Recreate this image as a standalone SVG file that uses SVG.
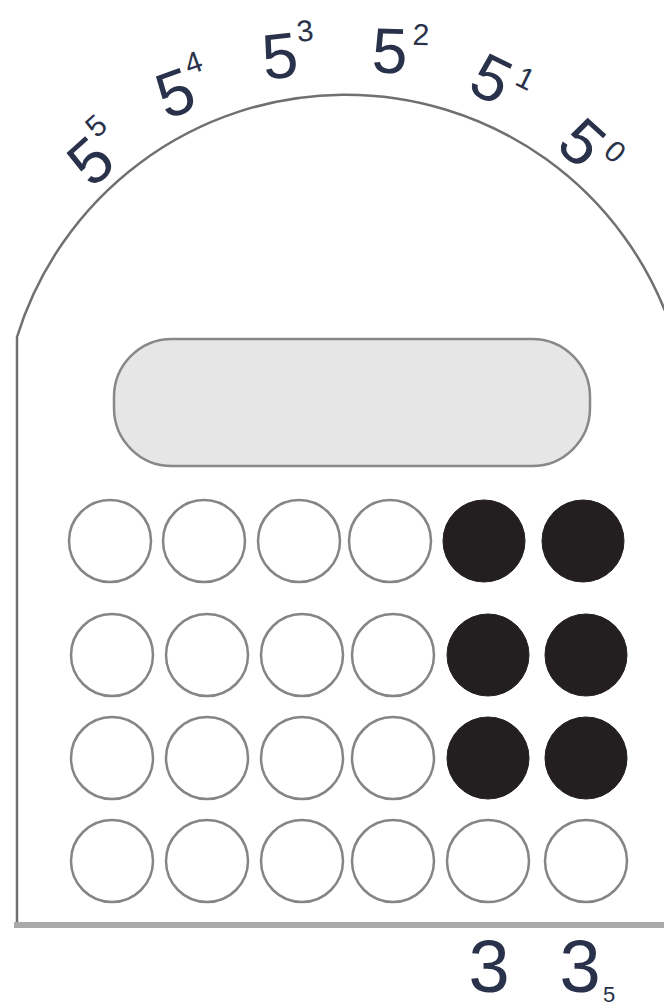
<svg xmlns="http://www.w3.org/2000/svg" width="664" height="1008" viewBox="0 0 664 1008">
<style>
.outline{fill:none;stroke:#707070;stroke-width:2.5}
.base{fill:none;stroke:#aaa;stroke-width:6}
.bead{fill:#fff;stroke:#858585;stroke-width:2.5}
.on{fill:#231f20;stroke:#231f20;stroke-width:1}
.lbl{font-family:"Liberation Sans",Arial,sans-serif;fill:#29324a}
.b{font-size:64px}
.e{font-size:30px}
</style>
<rect width="664" height="1008" fill="#fff"/>
<g id="frame">
<path class="outline" d="M17 925 L17 337 A344 344 0 0 1 672 330"/>
<line class="base" x1="14" y1="925" x2="664" y2="925"/>
</g>
<g id="display">
<rect x="114" y="339" width="476" height="127" rx="58" ry="58" fill="#e6e6e6" stroke="#888" stroke-width="2.5"/>
</g>
<g id="labels">
<g id="p5" transform="translate(90,160) rotate(-42)"><text class="lbl b" x="-18" y="23">5</text><text class="lbl e" x="19" y="-11">5</text></g>
<g id="p4" transform="translate(175,92) rotate(-20)"><text class="lbl b" x="-18" y="23">5</text><text class="lbl e" x="19" y="-11">4</text></g>
<g id="p3" transform="translate(280,55) rotate(-6)"><text class="lbl b" x="-18" y="23">5</text><text class="lbl e" x="19" y="-11">3</text></g>
<g id="p2" transform="translate(390,50) rotate(2)"><text class="lbl b" x="-18" y="23">5</text><text class="lbl e" x="22" y="-6">2</text></g>
<g id="p1" transform="translate(492,78) rotate(26)"><text class="lbl b" x="-18" y="23">5</text><text class="lbl e" x="22" y="-4">1</text></g>
<g id="p0" transform="translate(583,142) rotate(42)"><text class="lbl b" x="-18" y="23">5</text><text class="lbl e" x="22" y="-4">0</text></g>
</g>
<g id="beads">
<circle class="bead" cx="110" cy="541" r="41"/>
<circle class="bead" cx="204" cy="541" r="41"/>
<circle class="bead" cx="299" cy="541" r="41"/>
<circle class="bead" cx="390" cy="541" r="41"/>
<circle class="on" cx="484" cy="541" r="41"/>
<circle class="on" cx="583" cy="541" r="41"/>
<circle class="bead" cx="112" cy="655" r="41"/>
<circle class="bead" cx="207" cy="655" r="41"/>
<circle class="bead" cx="302" cy="655" r="41"/>
<circle class="bead" cx="393" cy="655" r="41"/>
<circle class="on" cx="488" cy="655" r="41"/>
<circle class="on" cx="586" cy="655" r="41"/>
<circle class="bead" cx="112" cy="758" r="41"/>
<circle class="bead" cx="207" cy="758" r="41"/>
<circle class="bead" cx="302" cy="758" r="41"/>
<circle class="bead" cx="393" cy="758" r="41"/>
<circle class="on" cx="488" cy="758" r="41"/>
<circle class="on" cx="586" cy="758" r="41"/>
<circle class="bead" cx="112" cy="861" r="41"/>
<circle class="bead" cx="207" cy="861" r="41"/>
<circle class="bead" cx="302" cy="861" r="41"/>
<circle class="bead" cx="393" cy="861" r="41"/>
<circle class="bead" cx="488" cy="861" r="41"/>
<circle class="bead" cx="586" cy="861" r="41"/>
</g>
<g id="result">
<text class="lbl" font-size="74" x="489" y="992" text-anchor="middle">3</text>
<text class="lbl" font-size="74" x="580" y="992" text-anchor="middle">3</text>
<text class="lbl" font-size="22" x="603" y="1002">5</text>
</g>
</svg>
